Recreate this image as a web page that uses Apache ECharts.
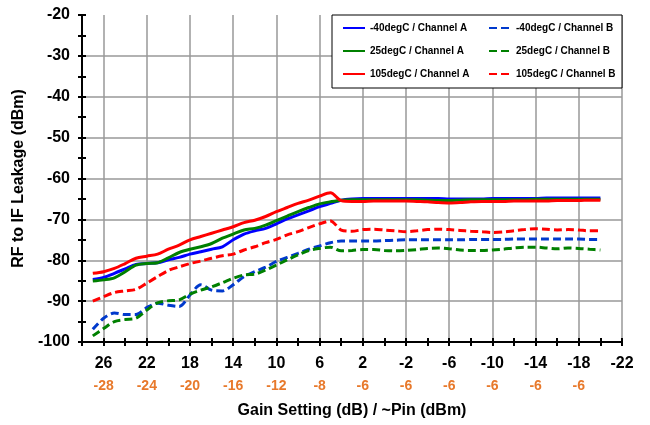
<!DOCTYPE html>
<html>
<head>
<meta charset="utf-8">
<script src="https://cdn.jsdelivr.net/npm/echarts@6/dist/echarts.min.js"></script>
<style>
    html, body { margin: 0; padding: 0; background: #fff; }
    #chart { width: 650px; height: 425px; }
</style>
</head>
<body>
<div id="chart"></div>
<script>
// gain setting (dB), 1 dB steps
const gains = [27, 26, 25, 24, 23, 22, 21, 20, 19, 18, 17, 16, 15, 14, 13, 12, 11, 10, 9, 8, 7, 6, 5, 4,
    3, 2, 1, 0, -1, -2, -3, -4, -5, -6, -7, -8, -9, -10, -11, -12, -13, -14, -15, -16, -17, -18, -19, -20];

// RF to IF leakage (dBm)
const chA_m40 = [-84.7, -84.2, -83.2, -82.1, -81.0, -80.8, -80.6, -79.9, -79.3, -78.5, -77.9, -77.3, -76.7, -75.0, -73.6, -72.8, -72.2, -71.1, -69.9, -68.9, -67.9, -66.9, -66.1, -65.3,
    -65.0, -64.9, -64.9, -64.9, -64.9, -64.9, -64.9, -64.9, -64.9, -65.0, -65.0, -65.0, -65.0, -64.9, -64.9, -64.9, -64.9, -64.9, -64.8, -64.8, -64.8, -64.8, -64.8, -64.8];
const chA_25 = [-85.1, -84.8, -84.3, -82.8, -81.2, -80.8, -80.6, -79.4, -78.1, -77.3, -76.7, -75.9, -74.6, -73.6, -72.6, -72.2, -71.4, -70.3, -69.2, -68.1, -67.1, -66.2, -65.7, -65.3,
    -65.2, -65.2, -65.2, -65.2, -65.2, -65.2, -65.2, -65.3, -65.4, -65.4, -65.3, -65.2, -65.2, -65.2, -65.2, -65.2, -65.2, -65.1, -65.1, -65.1, -65.1, -65.1, -65.1, -65.1];
const chA_105 = [-83.2, -82.8, -82.0, -80.8, -79.5, -79.0, -78.5, -77.3, -76.3, -75.0, -74.2, -73.4, -72.6, -71.8, -70.8, -70.2, -69.3, -68.1, -67.1, -66.1, -65.3, -64.3, -63.5, -65.4,
    -65.6, -65.6, -65.5, -65.5, -65.5, -65.5, -65.6, -65.7, -65.9, -66.0, -65.9, -65.7, -65.6, -65.6, -65.6, -65.5, -65.5, -65.5, -65.5, -65.4, -65.4, -65.4, -65.3, -65.3];
const chB_m40 = [-96.9, -94.2, -92.9, -93.3, -93.3, -91.6, -90.5, -91.0, -91.3, -88.5, -86.0, -87.3, -87.5, -86.0, -84.0, -82.8, -81.7, -80.3, -79.3, -78.3, -77.3, -76.5, -75.7, -75.3,
    -75.3, -75.3, -75.3, -75.2, -75.1, -75.0, -75.0, -75.0, -75.0, -75.0, -75.0, -74.9, -74.9, -74.9, -74.9, -74.8, -74.8, -74.8, -74.8, -74.8, -74.8, -74.8, -74.9, -74.9];
const chB_25 = [-98.5, -96.7, -95.0, -94.5, -94.2, -92.2, -90.4, -89.9, -89.7, -88.3, -87.3, -86.5, -85.5, -84.4, -83.6, -83.4, -82.4, -81.2, -79.9, -78.7, -77.6, -77.1, -76.8, -77.7,
    -77.6, -77.4, -77.4, -77.6, -77.7, -77.6, -77.4, -77.1, -77.0, -77.2, -77.5, -77.6, -77.6, -77.5, -77.3, -77.0, -76.8, -76.8, -77.0, -77.2, -77.0, -77.1, -77.3, -77.5];
const chB_105 = [-90.0, -88.9, -87.9, -87.5, -87.1, -85.6, -84.0, -82.5, -81.6, -80.8, -80.2, -79.5, -78.9, -78.5, -77.5, -76.7, -75.7, -74.9, -73.8, -73.0, -72.0, -71.1, -70.4, -72.6,
    -72.9, -72.5, -72.4, -72.6, -72.8, -73.0, -72.8, -72.5, -72.4, -72.5, -72.7, -72.9, -73.0, -73.2, -73.1, -72.8, -72.5, -72.3, -72.4, -72.6, -72.5, -72.6, -72.8, -72.8];

// x tick labels: gain setting and approx. Pin below it
const xTicks = [26, 22, 18, 14, 10, 6, 2, -2, -6, -10, -14, -18, -22];
const pinLabels = ['-28', '-24', '-20', '-16', '-12', '-8', '-6', '-6', '-6', '-6', '-6', '-6', ''];

const FONT = 'Arial, "Liberation Sans", sans-serif';

let chart = echarts.init(document.getElementById('chart'));

function makeSeries(name, values, color, dashed) {
    return {
        name: name,
        type: 'line',
        data: values.map((v, i) => [gains[i], v]),
        symbol: 'none',
        smooth: 0.3,
        lineStyle: {
            color: color,
            width: 3,
            type: dashed ? [8, 4] : 'solid'
        },
        itemStyle: { color: color }
    };
}

let option = {
    animation: false,
    backgroundColor: '#fff',
    grid: {
        left: 82,
        right: 28,
        top: 15,
        bottom: 83
    },
    legend: {
        left: 332,
        top: 15,
        width: 280,
        padding: [8, 1, 9, 10],
        itemGap: 13,
        itemWidth: 22,
        itemHeight: 8,
        backgroundColor: '#fff',
        borderColor: '#000',
        borderWidth: 1,
        selectedMode: false,
        itemStyle: { opacity: 0 }, // hide the marker dot, keep the line
        textStyle: {
            fontFamily: FONT,
            fontSize: 10,
            fontWeight: 'bold',
            color: '#000',
            width: 105,
            lineHeight: 10
        },
        data: ['-40degC / Channel A', '-40degC / Channel B', '25degC / Channel A',
            '25degC / Channel B', '105degC / Channel A', '105degC / Channel B']
    },
    xAxis: [{
        type: 'value',
        min: -22,
        max: 28,
        interval: 4, // ticks counted from min: -22, -18 ... 26
        inverse: true,
        name: 'Gain Setting (dB) / ~Pin (dBm)',
        nameLocation: 'middle',
        nameGap: 61,
        nameTextStyle: { fontFamily: FONT, fontSize: 16, fontWeight: 'bold', color: '#000' },
        axisLine: { onZero: false, lineStyle: { color: '#000', width: 2 } },
        axisTick: { length: 4, lineStyle: { color: '#000', width: 2 } },
        minorTick: { show: true, splitNumber: 2, length: 4, lineStyle: { color: '#000', width: 2 } },
        splitLine: { show: true, lineStyle: { color: '#999', width: 1.5 } },
        axisLabel: {
            margin: 11,
            formatter: value => {
                let i = xTicks.indexOf(value);
                if (i < 0) return '';
                return '{a|' + value + '}\n{b|' + (pinLabels[i] || ' ') + '}';
            },
            rich: {
                a: { fontFamily: FONT, fontSize: 16, fontWeight: 'bold', color: '#000', lineHeight: 22 },
                b: { fontFamily: FONT, fontSize: 14, fontWeight: 'bold', color: '#E8792B', lineHeight: 22 }
            }
        }
    }, {
        // second axis only for the inner half of the crossing ticks
        type: 'value',
        position: 'bottom',
        min: -22,
        max: 28,
        interval: 4,
        inverse: true,
        axisLine: { show: false, onZero: false },
        axisTick: { inside: true, length: 4, lineStyle: { color: '#000', width: 2 } },
        minorTick: { show: true, splitNumber: 2, length: 4, lineStyle: { color: '#000', width: 2 } },
        splitLine: { show: false },
        axisLabel: { show: false }
    }],
    yAxis: [{
        type: 'value',
        min: -100,
        max: -20,
        interval: 10,
        name: 'RF to IF Leakage (dBm)',
        nameLocation: 'middle',
        nameGap: 52,
        nameTextStyle: { fontFamily: FONT, fontSize: 16, fontWeight: 'bold', color: '#000' },
        axisLine: { show: true, onZero: false, lineStyle: { color: '#000', width: 2 } },
        axisTick: { show: true, length: 4, lineStyle: { color: '#000', width: 2 } },
        minorTick: { show: true, splitNumber: 2, length: 4, lineStyle: { color: '#000', width: 2 } },
        splitLine: {
            show: true,
            // no grid line on the top edge (-20)
            lineStyle: { color: ['#999', '#999', '#999', '#999', '#999', '#999', '#999', '#999', 'rgba(0,0,0,0)'], width: 1.5 }
        },
        axisLabel: {
            margin: 12,
            fontFamily: FONT,
            fontSize: 16,
            fontWeight: 'bold',
            color: '#000'
        }
    }, {
        type: 'value',
        position: 'left',
        min: -100,
        max: -20,
        interval: 10,
        axisLine: { show: false, onZero: false },
        axisTick: { show: true, inside: true, length: 4, lineStyle: { color: '#000', width: 2 } },
        minorTick: { show: true, splitNumber: 2, length: 4, lineStyle: { color: '#000', width: 2 } },
        splitLine: { show: false },
        axisLabel: { show: false }
    }],
    series: [
        makeSeries('-40degC / Channel A', chA_m40, '#0000FF', false),
        makeSeries('-40degC / Channel B', chB_m40, '#0039CC', true),
        makeSeries('25degC / Channel A', chA_25, '#008000', false),
        makeSeries('25degC / Channel B', chB_25, '#008000', true),
        makeSeries('105degC / Channel A', chA_105, '#FF0000', false),
        makeSeries('105degC / Channel B', chB_105, '#FF0000', true)
    ]
};

chart.setOption(option);
</script>
</body>
</html>
